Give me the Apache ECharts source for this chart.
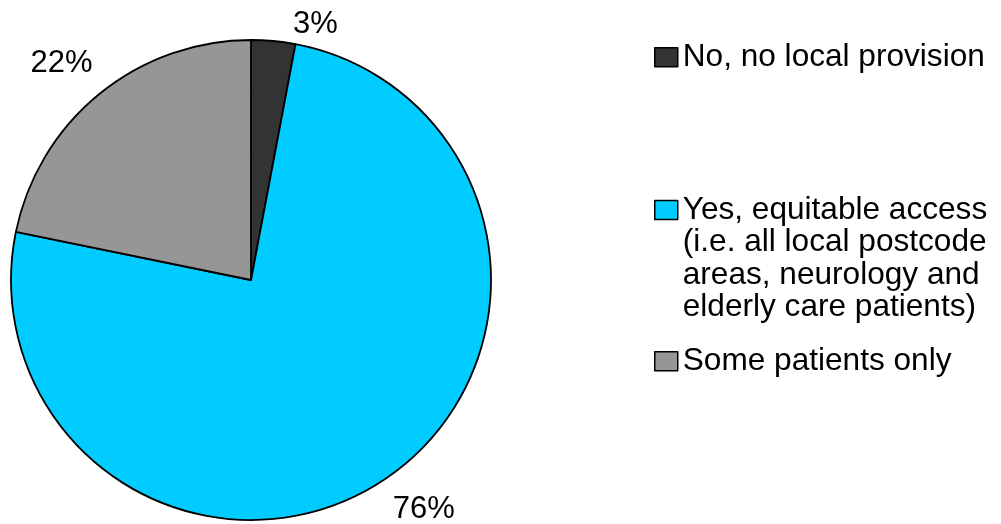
<!DOCTYPE html>
<html>
<head>
<meta charset="utf-8">
<script src="https://cdn.jsdelivr.net/npm/echarts@6/dist/echarts.min.js"></script>
<style>
  html, body { margin: 0; padding: 0; background: #ffffff; }
  #chart { width: 1001px; height: 524px; }
</style>
</head>
<body>
<div id="chart"></div>
<script>
// Survey answers and their shares (percent)
const categories = [
  'No, no local provision',
  'Yes, equitable access\n(i.e. all local postcode\nareas, neurology and\nelderly care patients)',
  'Some patients only'
];
const shares = [3, 76, 22];
const colors = ['#333333', '#00ccff', '#969696'];

// label leader offsets per slice (hidden lines, used only to place the percent text)
const labelLineLengths = [17, 36, 39];
const labelLineLengths2 = [13, -17, -23];

const FONT = '"Liberation Sans", Arial, sans-serif';
const LINE_H = 32.5;

const chart = echarts.init(document.getElementById('chart'), null, { renderer: 'canvas' });

const pieData = categories.map((name, i) => ({
  name: name,
  value: shares[i],
  itemStyle: { color: colors[i] },
  labelLine: { show: false, length: labelLineLengths[i], length2: labelLineLengths2[i] }
}));

// Legend text is centred on its swatch; for a multi-line name, pad the top with
// empty lines so the first line sits beside the swatch.
function topAligned(name) {
  const n = name.split('\n').length;
  return '\n'.repeat(n - 1) + name;
}

function legendFor(i, top) {
  return {
    data: [categories[i]],
    left: 654,
    top: top,
    orient: 'vertical',
    padding: 0,
    icon: 'rect',
    itemWidth: 23,
    itemHeight: 19,
    selectedMode: false,
    formatter: topAligned,
    itemStyle: { borderColor: '#000000', borderWidth: 1.5 },
    textStyle: {
      fontFamily: FONT,
      fontSize: 31.6,
      color: '#000000',
      lineHeight: LINE_H
    }
  };
}

const option = {
  animation: false,
  backgroundColor: '#ffffff',
  legend: [
    legendFor(0, 41),
    legendFor(1, 210 - LINE_H * 3.5),
    legendFor(2, 345)
  ],
  series: [{
    type: 'pie',
    center: [251, 280],
    radius: 240,
    startAngle: 90,
    clockwise: true,
    avoidLabelOverlap: false,
    silent: true,
    data: pieData,
    itemStyle: { borderColor: '#000000', borderWidth: 1.8 },
    label: {
      show: true,
      position: 'outside',
      formatter: p => p.value + '%',
      fontFamily: FONT,
      fontSize: 31,
      color: '#000000',
      distanceToLabelLine: 5
    },
    labelLine: { show: false }
  }]
};

chart.setOption(option);
</script>
</body>
</html>
